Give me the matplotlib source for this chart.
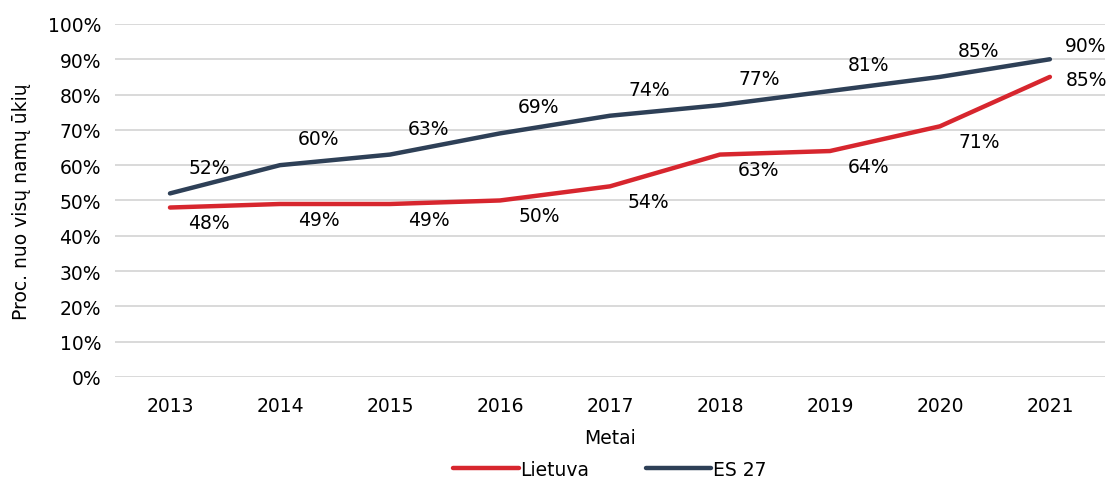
import matplotlib.pyplot as plt
from matplotlib.ticker import PercentFormatter

years = ["2013", "2014", "2015", "2016", "2017", "2018", "2019", "2020", "2021"]
lietuva = [48, 49, 49, 50, 54, 63, 64, 71, 85]
es27 = [52, 60, 63, 69, 74, 77, 81, 85, 90]

red = "#D7262E"
navy = "#2E4057"

plt.rcParams["font.family"] = ["DejaVu Sans"]
fs = 13.5

fig = plt.figure(figsize=(11.11, 4.89), dpi=100)
ax = fig.add_axes([0.1035, 0.227, 0.891, 0.722])

x = list(range(len(years)))
ax.plot(x, lietuva, color=red, lw=3.2, solid_capstyle="round", label="Lietuva")
ax.plot(x, es27, color=navy, lw=3.2, solid_capstyle="round", label="ES 27")

for i, (lt, es) in enumerate(zip(lietuva, es27)):
    if i == len(years) - 1:
        ax.annotate(f"{es}%", (i, es), xytext=(26, 10), textcoords="offset points",
                    ha="center", va="center", fontsize=fs)
        ax.annotate(f"{lt}%", (i, lt), xytext=(26, -2), textcoords="offset points",
                    ha="center", va="center", fontsize=fs)
    else:
        ax.annotate(f"{es}%", (i, es), xytext=(28, 19), textcoords="offset points",
                    ha="center", va="center", fontsize=fs)
        ax.annotate(f"{lt}%", (i, lt), xytext=(28, -11), textcoords="offset points",
                    ha="center", va="center", fontsize=fs)

ax.set_xlim(-0.5, len(years) - 0.5)
ax.set_ylim(0, 100)
ax.set_yticks(range(0, 101, 10))
ax.yaxis.set_major_formatter(PercentFormatter(decimals=0))
ax.set_xticks(x, years)
ax.tick_params(axis="y", length=0, labelsize=fs, pad=10)
ax.tick_params(axis="x", length=0, labelsize=fs, pad=14)
ax.grid(axis="y", color="#D9D9D9", lw=1.4)
ax.set_axisbelow(True)
for s in ax.spines.values():
    s.set_visible(False)

ax.set_xlabel("Metai", fontsize=fs, labelpad=9)
ax.set_ylabel("Proc. nuo visų namų ūkių", fontsize=fs, labelpad=12)

ax.legend(loc="center", bbox_to_anchor=(0.5, -0.262), ncol=2, frameon=False,
          fontsize=fs, handlelength=3.5, handletextpad=0.1, columnspacing=3,
          borderpad=0, borderaxespad=0)

fig.savefig("out.png", dpi=100)
